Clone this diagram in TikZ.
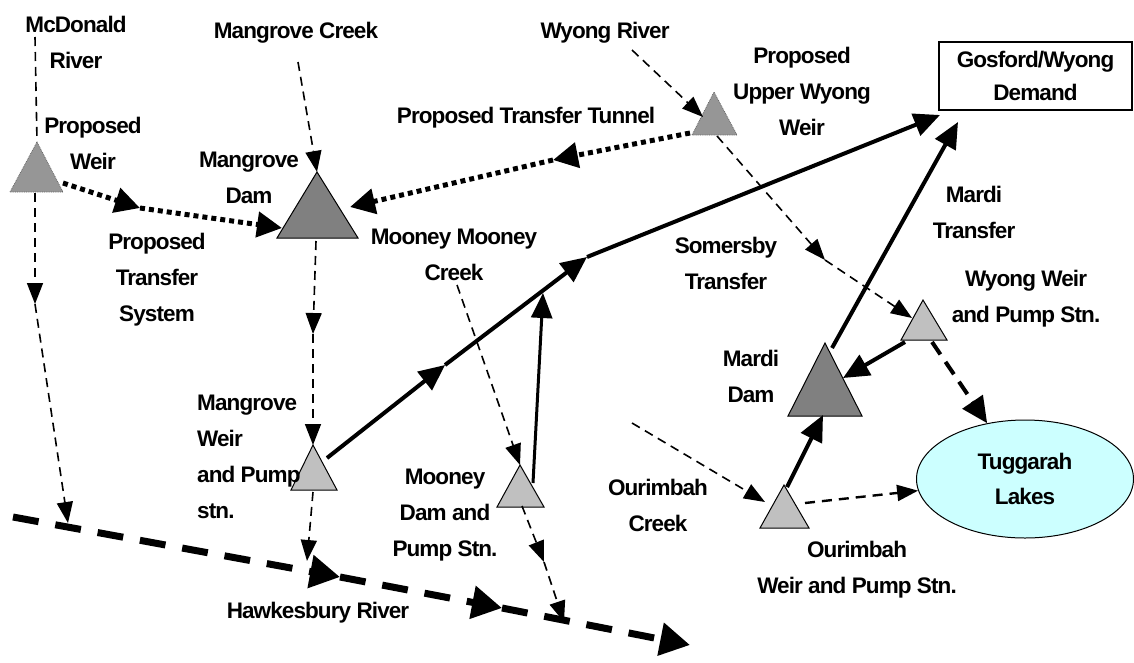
\documentclass[tikz,border=0pt]{standalone}
\usepackage{fontspec}
\setmainfont{Liberation Sans}[LetterSpace=-4]
\usetikzlibrary{arrows.meta,shapes.geometric}
\definecolor{darktri}{HTML}{808080}
\definecolor{proptri}{HTML}{969696}
\definecolor{lighttri}{HTML}{C0C0C0}
\definecolor{lake}{HTML}{CCFFFF}
\tikzset{
  lbl/.style={font=\fontsize{22.5}{36}\selectfont\bfseries, align=center, inner sep=0pt},
  creek/.style={line width=1.6pt, dash pattern=on 9pt off 6pt, -{Triangle[length=21pt,width=16pt]}},
  creekplain/.style={line width=1.6pt, dash pattern=on 9pt off 6pt},
  river/.style={line width=7pt, dash pattern=on 26pt off 17pt, -{Triangle[length=30pt,width=32pt]}},
  spill/.style={line width=4pt, dash pattern=on 15pt off 9pt, -{Triangle[length=26pt,width=24pt]}},
  flow/.style={line width=4pt, -{Triangle[length=26pt,width=23pt]}},
  flowthin/.style={line width=3pt, -{Triangle[length=25pt,width=21pt]}},
  prop/.style={line width=5pt, dash pattern=on 5pt off 4pt, -{Triangle[length=25pt,width=25pt]}},
  damtri/.style={draw=black, line width=1pt, fill=darktri},
  weirtri/.style={draw=black, line width=1pt, fill=lighttri},
  proptriangle/.style={draw=black!60, line width=0.8pt, densely dotted, fill=proptri},
}
\begin{document}
\begin{tikzpicture}[x=1pt,y=-1pt]
\useasboundingbox (0,0) rectangle (1134,662);
% triangle corner coordinates
\coordinate (pwL) at (10,192); \coordinate (pwA) at (37,142); \coordinate (pwR) at (63,192);
\coordinate (mdL) at (277,238); \coordinate (mdA) at (317,172); \coordinate (mdR) at (358,238);
\coordinate (uwL) at (692,135); \coordinate (uwA) at (714,92); \coordinate (uwR) at (737,135);
\coordinate (wwL) at (901,340); \coordinate (wwA) at (923,300); \coordinate (wwR) at (947,340);
\coordinate (mrL) at (788,416); \coordinate (mrA) at (825,343); \coordinate (mrR) at (862,416);
\coordinate (owL) at (760,528); \coordinate (owA) at (784,485); \coordinate (owR) at (809,528);
\coordinate (mwL) at (291,490); \coordinate (mwA) at (313,445); \coordinate (mwR) at (337,490);
\coordinate (moL) at (497,507); \coordinate (moA) at (520,465); \coordinate (moR) at (544,507);

% triangles
\draw[proptriangle] (pwL) -- (pwA) -- (pwR) -- cycle;
\draw[damtri] (mdL) -- (mdA) -- (mdR) -- cycle;
\draw[proptriangle] (uwL) -- (uwA) -- (uwR) -- cycle;
\draw[weirtri] (wwL) -- (wwA) -- (wwR) -- cycle;
\draw[damtri] (mrL) -- (mrA) -- (mrR) -- cycle;
\draw[weirtri] (owL) -- (owA) -- (owR) -- cycle;
\draw[weirtri] (mwL) -- (mwA) -- (mwR) -- cycle;
\draw[weirtri] (moL) -- (moA) -- (moR) -- cycle;

% demand box and lake
\node[draw, line width=1.2pt, minimum width=193pt, minimum height=68pt, inner sep=0pt,
      lbl, font=\fontsize{22.5}{33}\selectfont\bfseries] (gos) at (1035.5,76) {Gosford/Wyong\\Demand};
\node[ellipse, draw, line width=1pt, fill=lake, minimum width=217pt, minimum height=118pt,
      inner sep=0pt, lbl, font=\fontsize{22.5}{35}\selectfont\bfseries] (tug) at (1025,479) {Tuggarah\\Lakes};

% labels
\node[lbl] (tMcD) at (76,42) {McDonald\\River};
\node[lbl] (tMgC) at (296,33) {Mangrove Creek};
\node[lbl] (tPW) at (93,143) {Proposed\\Weir};
\node[lbl] (tMD) at (249,178) {Mangrove\\Dam};
\node[lbl] (tPTS) at (157,280) {Proposed\\Transfer\\System};
\node[lbl] (tWR) at (605,33) {Wyong River};
\node[lbl] (tPUW) at (802,91) {Proposed\\Upper Wyong\\Weir};
\node[lbl] (tPTT) at (526,118) {Proposed Transfer Tunnel};
\node[lbl] (tMMC) at (454,255) {Mooney Mooney\\Creek};
\node[lbl] (tST) at (726,263) {Somersby\\Transfer};
\node[lbl] (tMT) at (974,212) {Mardi\\Transfer};
\node[lbl] (tWW) at (1026,299) {Wyong Weir\\and Pump Stn.};
\node[lbl] (tMrD) at (751,376) {Mardi\\Dam};
\node[lbl] (tOC) at (658,505) {Ourimbah\\Creek};
\node[lbl] (tOW) at (857,570) {Ourimbah\\Weir and Pump Stn.};
\node[lbl] (tMo) at (445,515) {Mooney\\Dam and\\Pump Stn.};
\node[lbl, align=left, anchor=west] (tMW) at (197,457) {Mangrove\\Weir\\and Pump\\stn.};
\node[lbl] (tHR) at (318,613) {Hawkesbury River};

% connector coordinates
\coordinate (mcd0) at (35,37);
\coordinate (pwB) at (35,193);
\coordinate (mcd1) at (35,304);
\coordinate (mcd2) at (68,523);
\coordinate (mgc0) at (298,62);
\coordinate (mdB) at (316,241);
\coordinate (md1) at (313,334);
\coordinate (mwB) at (313,492);
\coordinate (mw1) at (307,561);
\coordinate (mmc0) at (457,285);
\coordinate (moB) at (522,506);
\coordinate (mo1) at (544,562);
\coordinate (mo2) at (564,622);
\coordinate (wyr0) at (632,50);
\coordinate (uwIn) at (703,117);
\coordinate (uwB) at (717,136);
\coordinate (uw1) at (825,260);
\coordinate (wwIn) at (912,318);
\coordinate (oc0) at (632,423);
\coordinate (owIn) at (765,502);
\coordinate (owOut) at (805,503);
\coordinate (wwB) at (932,342);
\coordinate (hk0) at (13,517);
\coordinate (hk1) at (340,577);
\coordinate (hk2) at (502,608);
\coordinate (hk3) at (690,645);
\coordinate (mwOut) at (327,458);
\coordinate (j1) at (445,365);
\coordinate (j2) at (587,257);
\coordinate (gosIn1) at (940,115);
\coordinate (moOut) at (533,483);
\coordinate (j3) at (543,293);
\coordinate (mrOut) at (832,348);
\coordinate (gosIn2) at (958,122);
\coordinate (wwOut) at (905,342);
\coordinate (mrIn1) at (843,378);
\coordinate (owUp) at (787,487);
\coordinate (mrIn2) at (823,415);
\coordinate (pwOut) at (63,183);
\coordinate (d1) at (140,208);
\coordinate (mdIn1) at (282,228);
\coordinate (uwOut) at (690,133);
\coordinate (d2) at (553,160);
\coordinate (mdIn2) at (350,207);

% thin dashed creeks
\draw[creekplain] (mcd0) -- (pwA);
\draw[creek] (pwB) -- (mcd1);
\draw[creek] (mcd1) -- (mcd2);
\draw[creek] (mgc0) -- (mdA);
\draw[creek] (mdB) -- (md1);
\draw[creek] (md1) -- (mwA);
\draw[creek] (mwB) -- (mw1);
\draw[creek] (mmc0) -- (moA);
\draw[creek] (moB) -- (mo1);
\draw[creek] (mo1) -- (mo2);
\draw[creek] (wyr0) -- (uwIn);
\draw[creek] (uwB) -- (uw1);
\draw[creek] (uw1) -- (wwIn);
\draw[creek] (oc0) -- (owIn);
\draw[creek, line width=2.4pt, dash pattern=on 10pt off 7pt] (owOut) -- (tug);
\draw[spill] (wwB) -- (tug);

% Hawkesbury River
\draw[river] (hk0) -- (hk1);
\draw[river] (hk1) -- (hk2);
\draw[river] (hk2) -- (hk3);

% transfers
\draw[flow] (mwOut) -- (j1);
\draw[flow] (j1) -- (j2);
\draw[flow] (j2) -- (gosIn1);
\draw[flowthin] (moOut) -- (j3);
\draw[flow] (mrOut) -- (gosIn2);
\draw[flow] (wwOut) -- (mrIn1);
\draw[flow] (owUp) -- (mrIn2);

% proposed transfers
\draw[prop] (pwOut) -- (d1);
\draw[prop] (d1) -- (mdIn1);
\draw[prop] (uwOut) -- (d2);
\draw[prop] (d2) -- (mdIn2);
\end{tikzpicture}
\end{document}
